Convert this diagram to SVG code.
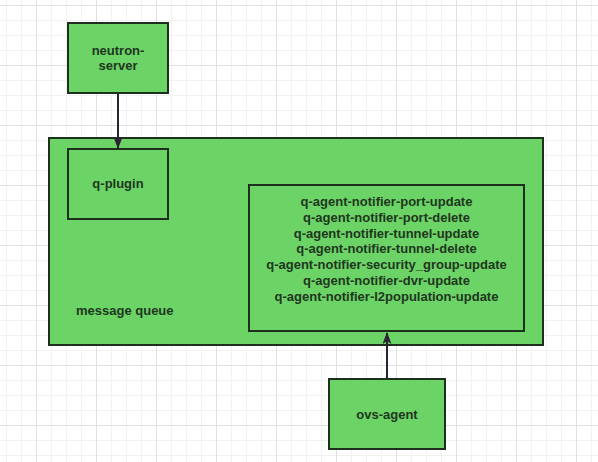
<svg xmlns="http://www.w3.org/2000/svg" width="598" height="462" viewBox="0 0 598 462">
<defs>
<pattern id="minor" x="6" y="5" width="15" height="15" patternUnits="userSpaceOnUse">
<path d="M0 0.5H15M0.5 0V15" fill="none" stroke="#f2f2f2" stroke-width="1"/>
</pattern>
<pattern id="major" x="36" y="5" width="60" height="60" patternUnits="userSpaceOnUse">
<path d="M0 0.5H60M0.5 0V60" fill="none" stroke="#e0e0e0" stroke-width="1"/>
</pattern>
<marker id="arr" viewBox="0 0 12 9" refX="11" refY="4.5" markerWidth="12" markerHeight="9" orient="auto" markerUnits="userSpaceOnUse">
<path d="M0 0L12 4.5L0 9L3 4.5Z" fill="#2b2233"/>
</marker>
</defs>
<style>
.box{fill:#6cd466;stroke:#1e2f1e;stroke-width:2}
.t{font-family:"Liberation Sans",Arial,sans-serif;font-size:13px;font-weight:bold;fill:#1f361f;text-anchor:middle}
.conn{stroke:#2b2233;stroke-width:2;fill:none}
</style>
<rect width="598" height="462" fill="#ffffff"/>
<rect width="598" height="462" fill="url(#minor)"/>
<rect width="598" height="462" fill="url(#major)"/>
<g id="message-queue">
<rect class="box" x="49" y="138" width="494" height="207"/>
<text class="t" x="76" y="315" style="text-anchor:start">message queue</text>
</g>
<g id="neutron-server">
<rect class="box" x="68" y="23" width="100" height="70"/>
<text class="t" x="118" y="55">neutron-</text>
<text class="t" x="118" y="70">server</text>
</g>
<g id="q-plugin">
<rect class="box" x="68" y="149" width="100" height="70"/>
<text class="t" x="118" y="188">q-plugin</text>
</g>
<g id="topics">
<rect class="box" x="249" y="185" width="275" height="146"/>
<text class="t" x="386.5" y="206">q-agent-notifier-port-update</text>
<text class="t" x="386.5" y="222">q-agent-notifier-port-delete</text>
<text class="t" x="386.5" y="238">q-agent-notifier-tunnel-update</text>
<text class="t" x="386.5" y="253">q-agent-notifier-tunnel-delete</text>
<text class="t" x="386.5" y="269">q-agent-notifier-security_group-update</text>
<text class="t" x="386.5" y="285">q-agent-notifier-dvr-update</text>
<text class="t" x="386.5" y="301">q-agent-notifier-l2population-update</text>
</g>
<g id="ovs-agent">
<rect class="box" x="329" y="379" width="116" height="70"/>
<text class="t" x="387" y="419">ovs-agent</text>
</g>
<g id="connectors">
<path class="conn" d="M118 94V148" marker-end="url(#arr)"/>
<path class="conn" d="M387 378V333" marker-end="url(#arr)"/>
</g>
</svg>
